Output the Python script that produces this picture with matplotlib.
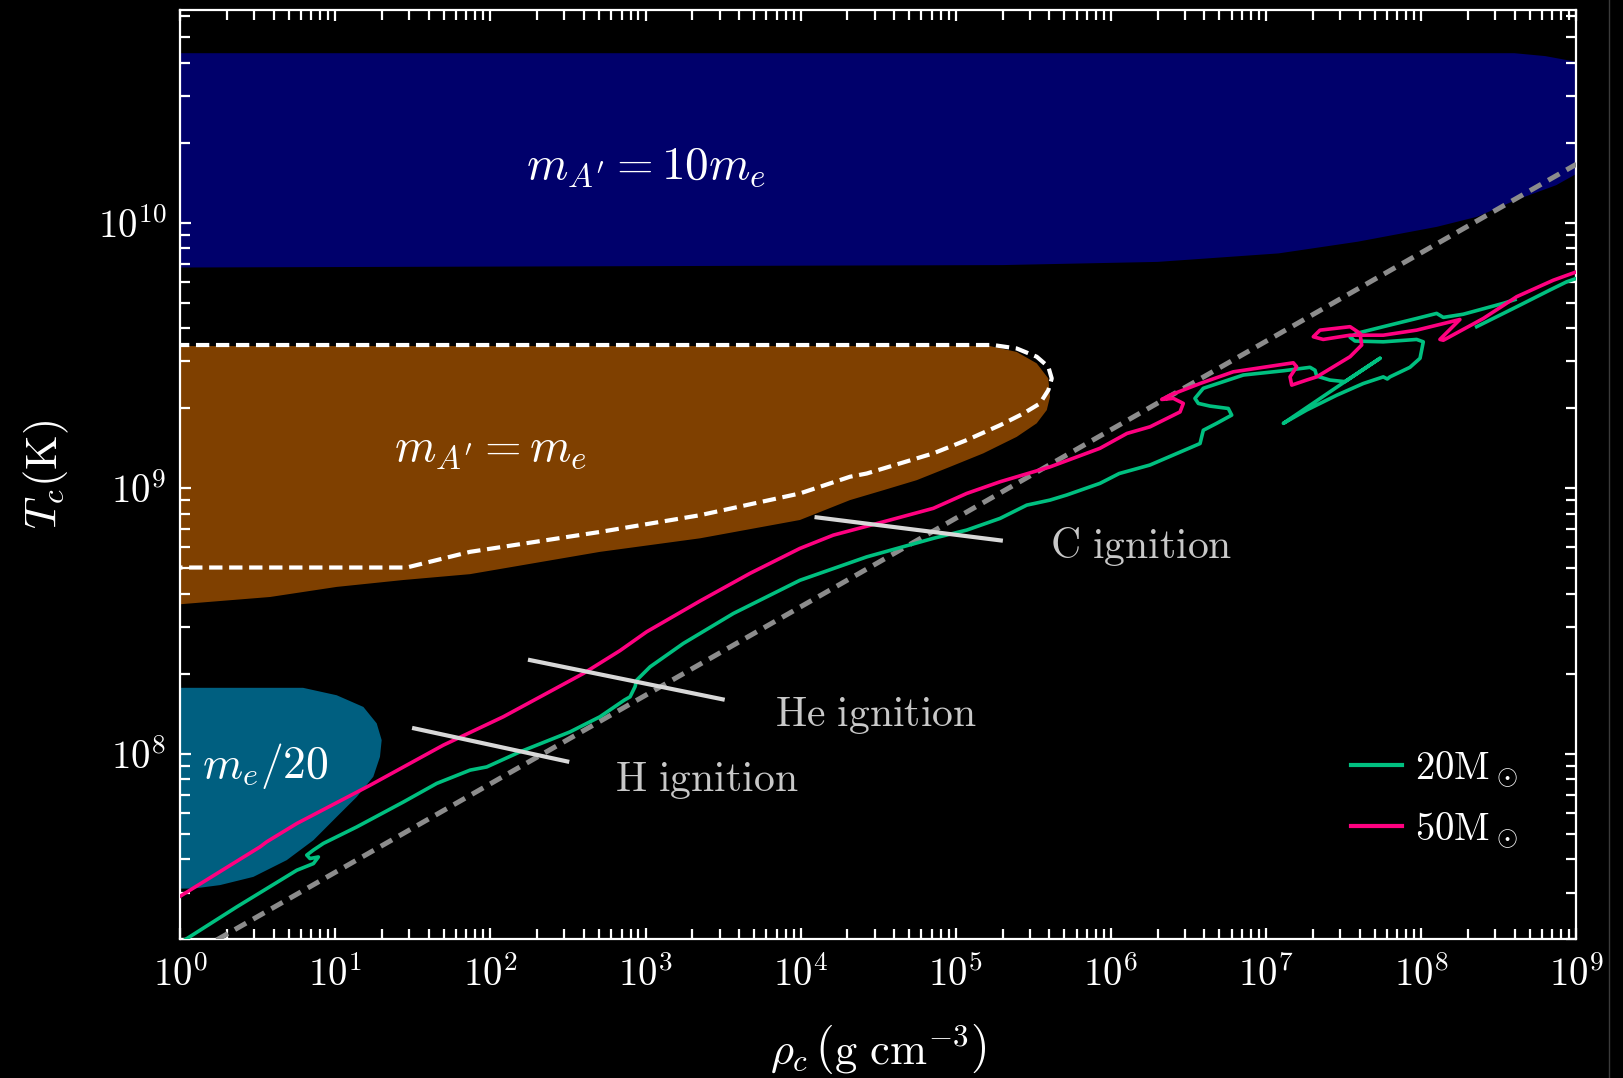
import numpy as np
import matplotlib

matplotlib.use("Agg")
import matplotlib.pyplot as plt
from matplotlib.lines import Line2D

plt.rcParams["mathtext.fontset"] = "cm"
plt.rcParams["font.family"] = "serif"

# ---- data (log10 rho_c [g cm^-3], log10 T_c [K]) ----
# dark-photon region, m_A' = 10 m_e
blue_lrho = [-0.5, 3.0, 5.3, 6.3, 7.08, 7.59, 8.10, 8.36, 8.61, 8.87, 9.05,
             9.05, 8.8, 8.6, -0.5]
blue_lT = [9.830, 9.836, 9.840, 9.852, 9.884, 9.928, 9.984, 10.022, 10.085,
           10.141, 10.20, 10.60, 10.627, 10.638, 10.638]

# m_A' = m_e (filled)
brown_lrho = [-0.5, 5.220, 5.392, 5.521, 5.596, 5.607, 5.586, 5.521, 5.392,
              5.177, 4.962, 4.748, 4.532, 4.318, 3.995, 3.351, 2.706, 1.868,
              1.439, 1.009, 0.579, 0.006, -0.5]
brown_lT = [9.535, 9.535, 9.513, 9.470, 9.413, 9.344, 9.294, 9.244, 9.193,
            9.131, 9.080, 9.030, 8.992, 8.955, 8.880, 8.811, 8.760, 8.676,
            8.654, 8.628, 8.590, 8.563, 8.563]

# m_A' = m_e (dashed contour)
dash_lrho = [-0.2, 1.46, 1.868, 2.706, 3.351, 3.995, 4.318, 4.425, 4.640,
             4.855, 5.070, 5.285, 5.435, 5.542, 5.596, 5.618, 5.596, 5.521,
             5.392, 5.239, -0.2]
dash_lT = [8.701, 8.701, 8.760, 8.835, 8.898, 8.980, 9.043, 9.055, 9.093,
           9.131, 9.181, 9.237, 9.281, 9.319, 9.369, 9.413, 9.457, 9.495,
           9.526, 9.539, 9.539]

# m_e / 20
teal_lrho = [-0.5, 0.792, 1.009, 1.181, 1.267, 1.299, 1.288, 1.245, 1.138,
             1.009, 0.859, 0.687, 0.472, 0.257, 0.085, -0.5]
teal_lT = [8.248, 8.248, 8.220, 8.176, 8.114, 8.051, 7.988, 7.913, 7.837,
           7.762, 7.674, 7.599, 7.536, 7.505, 7.492, 7.49]

# degeneracy line T ~ rho^(1/3)
degen_lrho = [0.0, 9.0]
degen_lT = [7.22, 10.22]

# 50 Msun track
m50_lrho = [-0.05, 0.515, 0.558, 0.752, 1.224, 1.696, 2.083, 2.599, 2.835,
            3.007, 3.351, 3.673, 3.995, 4.210, 4.532, 4.855, 5.070, 5.285,
            5.607, 5.929, 6.103, 6.252, 6.445, 6.466, 6.402, 6.327, 6.380,
            6.574, 6.788, 7.175, 7.197, 7.154, 7.165, 7.261, 7.326, 7.541,
            7.616, 7.605, 7.541, 7.347, 7.304, 7.368, 7.541, 7.755, 7.970,
            8.249, 8.120, 8.142, 8.400, 8.615, 8.851, 9.05]
m50_lT = [7.445, 7.649, 7.668, 7.737, 7.881, 8.032, 8.139, 8.302, 8.388,
          8.459, 8.575, 8.679, 8.773, 8.823, 8.873, 8.924, 8.980, 9.024,
          9.080, 9.150, 9.206, 9.231, 9.287, 9.319, 9.338, 9.334, 9.350,
          9.394, 9.438, 9.472, 9.457, 9.419, 9.388, 9.407, 9.419, 9.495,
          9.539, 9.583, 9.608, 9.595, 9.570, 9.560, 9.576, 9.576, 9.595,
          9.635, 9.560, 9.557, 9.639, 9.721, 9.783, 9.825]

# 20 Msun track (two pieces)
m20_lrho = [-0.02, 0.365, 0.752, 0.859, 0.891, 0.837, 0.816, 0.859, 0.923,
            1.138, 1.439, 1.654, 1.869, 1.976, 2.191, 2.513, 2.706, 2.864,
            2.900, 2.932, 2.943, 3.029, 3.243, 3.566, 3.995, 4.425, 4.855,
            5.070, 5.285, 5.457, 5.607, 5.714, 5.929, 6.053, 6.251, 6.574,
            6.595, 6.681, 6.778, 6.756, 6.638, 6.563, 6.541, 6.595, 6.853,
            7.111, 7.283, 7.315, 7.326, 7.411, 7.508, 7.734, 7.508, 7.111,
            7.261, 7.455, 7.626, 7.755, 7.781, 7.798, 7.927, 7.992, 8.013,
            7.970, 7.755, 7.573, 7.541, 7.584, 7.755, 7.970, 8.099, 8.142,
            8.271, 8.529, 8.604,
            np.nan,
            8.357, 8.615, 8.829, 8.937, 9.05]
m20_lT = [7.28, 7.423, 7.561, 7.586, 7.611, 7.605, 7.618, 7.637, 7.662,
          7.724, 7.818, 7.888, 7.938, 7.950, 8.007, 8.082, 8.139, 8.202,
          8.214, 8.252, 8.277, 8.327, 8.415, 8.528, 8.653, 8.741, 8.811,
          8.842, 8.886, 8.936, 8.955, 8.974, 9.018, 9.055, 9.087, 9.168,
          9.218, 9.244, 9.275, 9.300, 9.309, 9.319, 9.338, 9.376, 9.426,
          9.442, 9.455, 9.444, 9.422, 9.407, 9.401, 9.489, 9.401, 9.244,
          9.294, 9.350, 9.394, 9.419, 9.411, 9.419, 9.455, 9.489, 9.551,
          9.560, 9.551, 9.554, 9.568, 9.583, 9.608, 9.639, 9.658, 9.643,
          9.655, 9.696, 9.710,
          np.nan,
          9.608, 9.683, 9.746, 9.777, 9.800]

# ignition markers and their labels
ign_names = ["H ignition", "He ignition", "C ignition"]
ign_lrho0 = [1.495, 2.242, 4.089]
ign_lT0 = [8.097, 8.354, 8.891]
ign_lrho1 = [2.508, 3.510, 5.303]
ign_lT1 = [7.969, 8.203, 8.802]
ign_text_lrho = [2.80, 3.835, 5.605]
ign_text_lT = [7.90, 8.145, 8.78]

NAVY = "#00006b"
BROWN = "#7f4000"
TEAL = "#005f80"
GREEN = "#00c080"
PINK = "#ff0080"
IGN = "#d8d8d8"


def p(a):
    return 10 ** np.asarray(a, dtype=float)


fig = plt.figure(figsize=(16.23, 10.78), dpi=100, facecolor="black")
ax = fig.add_axes([0.1110, 0.1287, 0.9713 - 0.1110, 0.9904 - 0.1287])
ax.set_facecolor("black")
ax.set_xscale("log")
ax.set_yscale("log")

ax.fill(p(blue_lrho), p(blue_lT), color=NAVY, lw=0, zorder=1)
ax.fill(p(brown_lrho), p(brown_lT), color=BROWN, lw=0, zorder=1)
ax.fill(p(teal_lrho), p(teal_lT), color=TEAL, lw=0, zorder=1)
ax.plot(p(dash_lrho), p(dash_lT), color="white", lw=3.0,
        linestyle=(0, (3.2, 1.6)), zorder=2)

ax.plot(p(degen_lrho), p(degen_lT), color="#8c8c8c", lw=3.6,
        linestyle=(0, (2.6, 1.6)), zorder=3)

ax.plot(p(m20_lrho), p(m20_lT), color=GREEN, lw=2.6, zorder=4,
        label=r"$20\mathrm{M}_\odot$")
ax.plot(p(m50_lrho), p(m50_lT), color=PINK, lw=2.6, zorder=4,
        label=r"$50\mathrm{M}_\odot$")

for i, name in enumerate(ign_names):
    ax.plot(p([ign_lrho0[i], ign_lrho1[i]]), p([ign_lT0[i], ign_lT1[i]]),
            color=IGN, lw=3.0, solid_capstyle="butt", zorder=5)
    ax.text(p(ign_text_lrho[i]), p(ign_text_lT[i]),
            r"$\mathrm{" + name.replace(" ", r"\ ") + "}$",
            color="#c8c8c8", fontsize=30, ha="left", va="center", zorder=6)

ax.text(p(3.0), p(10.213), r"$m_{A^\prime} = 10m_e$", color="white",
        fontsize=34, ha="center", va="center", zorder=6)
ax.text(p(2.0), p(9.151), r"$m_{A^\prime} = m_e$", color="white",
        fontsize=34, ha="center", va="center", zorder=6)
ax.text(p(0.14), p(7.953), r"$m_e/20$", color="white",
        fontsize=33, ha="left", va="center", zorder=6)

ax.set_xlim(1, 1e9)
ax.set_ylim(2.0e7, 6.3e10)

xt = [10.0 ** k for k in range(0, 10)]
ax.set_xticks(xt)
ax.set_xticklabels([r"$10^{%d}$" % k for k in range(0, 10)])
yt = [1e8, 1e9, 1e10]
ax.set_yticks(yt)
ax.set_yticklabels([r"$10^{8}$", r"$10^{9}$", r"$10^{10}$"])
ax.xaxis.set_minor_locator(matplotlib.ticker.LogLocator(base=10, subs=np.arange(2, 10), numticks=30))
ax.yaxis.set_minor_locator(matplotlib.ticker.LogLocator(base=10, subs=np.arange(2, 10), numticks=30))
ax.xaxis.set_minor_formatter(matplotlib.ticker.NullFormatter())
ax.yaxis.set_minor_formatter(matplotlib.ticker.NullFormatter())

ax.tick_params(which="both", direction="in", top=True, right=True,
               color="white", labelcolor="white", labelsize=28)
ax.tick_params(which="major", length=8, width=1.6)
ax.tick_params(which="minor", length=7.5, width=1.6)
ax.tick_params(axis="x", pad=12)
ax.tick_params(axis="y", pad=10)
for s in ax.spines.values():
    s.set_color("white")
    s.set_linewidth(1.6)

ax.set_xlabel(r"$\rho_c\,\left(\mathrm{g\ cm}^{-3}\right)$", color="white",
              fontsize=32, labelpad=20)
ax.set_ylabel(r"$T_c(\mathrm{K})$", color="white", fontsize=32, labelpad=19)

leg = ax.legend(loc="center left", bbox_to_anchor=(0.8387, 0.150),
                frameon=False, fontsize=28, handlelength=1.3,
                handletextpad=0.35, labelspacing=0.55, borderpad=0,
                borderaxespad=0)
for t in leg.get_texts():
    t.set_color("white")
for h in leg.legend_handles:
    h.set_linewidth(3)

# thin grey line at the right edge of the image
fig.add_artist(Line2D([1609 / 1623, 1609 / 1623], [0, 1], color="#3a3a3a",
                      lw=1.0, transform=fig.transFigure))

fig.savefig("out.png", dpi=100, facecolor="black")
